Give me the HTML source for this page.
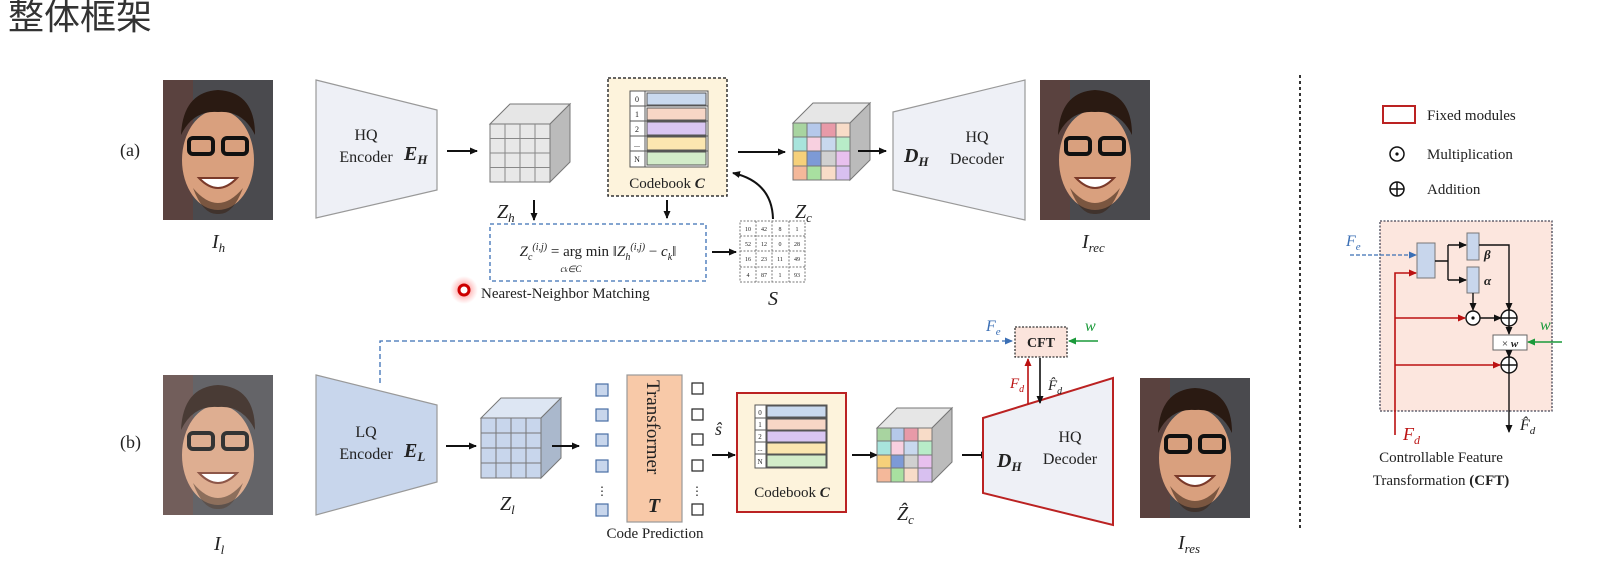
<!DOCTYPE html>
<html><head><meta charset="utf-8"><style>
html,body{margin:0;padding:0;background:#fff;}
svg{display:block;}
text{font-family:"Liberation Serif",serif;fill:#222;}
.it{font-style:italic;}
.b{font-weight:bold;}
</style></head><body>
<svg width="1600" height="568" viewBox="0 0 1600 568" xmlns="http://www.w3.org/2000/svg">
<defs>
<marker id="ar" markerWidth="8" markerHeight="8" refX="7" refY="4" orient="auto" markerUnits="userSpaceOnUse"><path d="M0,0.5 L8,4 L0,7.5Z" fill="#111"/></marker>
<marker id="arr" markerWidth="8" markerHeight="8" refX="7" refY="4" orient="auto" markerUnits="userSpaceOnUse"><path d="M0,0.5 L8,4 L0,7.5Z" fill="#b11"/></marker>
<marker id="arb" markerWidth="8" markerHeight="8" refX="7" refY="4" orient="auto" markerUnits="userSpaceOnUse"><path d="M0,0.5 L8,4 L0,7.5Z" fill="#3b6fb5"/></marker>
<marker id="arg" markerWidth="8" markerHeight="8" refX="7" refY="4" orient="auto" markerUnits="userSpaceOnUse"><path d="M0,0.5 L8,4 L0,7.5Z" fill="#1a9a3a"/></marker>
<radialGradient id="glow"><stop offset="0" stop-color="#f44" stop-opacity="0.8"/><stop offset="1" stop-color="#f88" stop-opacity="0"/></radialGradient>
<g id="face">
<rect x="0" y="0" width="110" height="140" fill="#4a4a4e"/>
<rect x="0" y="0" width="30" height="140" fill="#6a3a30" opacity="0.5"/>
<ellipse cx="55" cy="80" rx="36" ry="50" fill="#d9a07e"/>
<path d="M18,55 Q20,12 55,10 Q92,12 92,55 Q80,30 55,32 Q30,30 18,55Z" fill="#2a1a12"/>
<rect x="26" y="58" width="24" height="16" rx="4" fill="none" stroke="#111" stroke-width="4"/>
<rect x="60" y="58" width="24" height="16" rx="4" fill="none" stroke="#111" stroke-width="4"/>
<path d="M36,98 Q55,118 74,98 Z" fill="#fff" stroke="#7a3a2a" stroke-width="2"/>
<path d="M30,108 Q55,138 80,108 Q70,135 55,134 Q40,135 30,108Z" fill="#3a2418" opacity="0.6"/>
</g>
</defs>

<text x="8" y="29" style="font-family:'Liberation Sans','Noto Sans CJK SC',sans-serif;font-size:36px;fill:#333">整体框架</text>

<!-- (a) -->
<text x="120" y="156" font-size="18">(a)</text>
<use href="#face" x="163" y="80"/>
<text x="212" y="248" font-size="20" class="it">I<tspan font-size="13" dy="4">h</tspan></text>

<path d="M316,80 L437,110 L437,190 L316,218Z" fill="#eef0f6" stroke="#999" stroke-width="1.2"/>
<text x="366" y="140" font-size="16" text-anchor="middle">HQ</text>
<text x="366" y="162" font-size="16" text-anchor="middle">Encoder</text>
<text x="404" y="160" font-size="20" class="it b">E<tspan font-size="13" dy="4">H</tspan></text>
<line x1="447" y1="151" x2="477" y2="151" stroke="#111" stroke-width="2" marker-end="url(#ar)"/>

<g stroke="#777" stroke-width="1">
<path d="M490,124 L510,104 L570,104 L550,124Z" fill="#e6e6e6"/>
<path d="M550,124 L570,104 L570,162 L550,182Z" fill="#bbb"/>
<rect x="490" y="124" width="60" height="58" fill="#e8e8e8"/>
<path d="M505,124V182M520,124V182M535,124V182M490,138.5H550M490,153H550M490,167.5H550" fill="none" stroke="#888"/>
</g>
<text x="497" y="218" font-size="20" class="it">Z<tspan font-size="13" dy="4">h</tspan></text>
<line x1="534" y1="200" x2="534" y2="220" stroke="#111" stroke-width="2" marker-end="url(#ar)"/>

<rect x="608" y="78" width="119" height="118" fill="#fdf3dc" stroke="#333" stroke-width="1.5" stroke-dasharray="3,2"/>
<g stroke="#555" stroke-width="1">
<rect x="630" y="91" width="78" height="76" fill="#fff"/>
<rect x="647" y="93" width="59" height="12" fill="#c9d9ee"/>
<rect x="647" y="108" width="59" height="12" fill="#f7d6c6"/>
<rect x="647" y="122" width="59" height="13" fill="#d9c6f2"/>
<rect x="647" y="137" width="59" height="13" fill="#fbe6b0"/>
<rect x="647" y="152" width="59" height="13" fill="#d3ecc9"/>
<path d="M645,91V167M630,106H708M630,121H708M630,136H708M630,151H708"/>
</g>
<g font-size="8" text-anchor="middle"><text x="637" y="102">0</text><text x="637" y="117">1</text><text x="637" y="132">2</text><text x="637" y="147">...</text><text x="637" y="162">N</text></g>
<text x="667" y="188" font-size="15" text-anchor="middle">Codebook <tspan class="it b">C</tspan></text>
<line x1="667" y1="200" x2="667" y2="218" stroke="#111" stroke-width="2" marker-end="url(#ar)"/>

<rect x="490" y="224" width="216" height="57" fill="#fff" stroke="#3b6fb5" stroke-width="1.3" stroke-dasharray="4,3"/>
<text x="598" y="256" font-size="15" text-anchor="middle"><tspan class="it">Z<tspan font-size="10" dy="4">c</tspan><tspan font-size="10" dy="-10">(i,j)</tspan></tspan><tspan dy="6"> = arg min ‖</tspan><tspan class="it">Z<tspan font-size="10" dy="4">h</tspan><tspan font-size="10" dy="-10">(i,j)</tspan></tspan><tspan dy="6"> − </tspan><tspan class="it">c<tspan font-size="10" dy="4">k</tspan></tspan><tspan dy="-4">‖</tspan></text>
<text x="571" y="272" font-size="9" class="it" text-anchor="middle">c<tspan font-size="7">k</tspan>∈C</text>
<line x1="712" y1="252" x2="736" y2="252" stroke="#111" stroke-width="2" marker-end="url(#ar)"/>

<g stroke="#777" stroke-width="1" stroke-dasharray="2,1.5" fill="none">
<rect x="740" y="221" width="65" height="61"/>
<path d="M756,221V282M772,221V282M789,221V282M740,236H805M740,251H805M740,267H805"/>
</g>
<g font-size="6" text-anchor="middle" fill="#555">
<text x="748" y="231">10</text><text x="764" y="231">42</text><text x="780" y="231">8</text><text x="797" y="231">1</text>
<text x="748" y="246">52</text><text x="764" y="246">12</text><text x="780" y="246">0</text><text x="797" y="246">28</text>
<text x="748" y="261">16</text><text x="764" y="261">23</text><text x="780" y="261">11</text><text x="797" y="261">49</text>
<text x="748" y="277">4</text><text x="764" y="277">87</text><text x="780" y="277">1</text><text x="797" y="277">93</text>
</g>
<text x="768" y="305" font-size="20" class="it">S</text>
<path d="M773,219 Q772,182 733,173" fill="none" stroke="#111" stroke-width="2" marker-end="url(#ar)"/>
<line x1="738" y1="152" x2="785" y2="152" stroke="#111" stroke-width="2" marker-end="url(#ar)"/>

<circle cx="464" cy="290" r="14" fill="url(#glow)"/>
<circle cx="464" cy="290" r="5" fill="#fff" stroke="#c00" stroke-width="3"/>
<text x="481" y="298" font-size="15">Nearest-Neighbor Matching</text>

<g stroke="#777" stroke-width="1">
<path d="M793,123 L813,103 L870,103 L850,123Z" fill="#e6e6e6"/>
<path d="M850,123 L870,103 L870,160 L850,180Z" fill="#bbb"/>
<rect x="793" y="123" width="57" height="57" fill="#eee"/>
<rect x="793" y="123" width="14" height="14" fill="#a8d4a0"/><rect x="807" y="123" width="14" height="14" fill="#b5c8ea"/><rect x="821" y="123" width="15" height="14" fill="#e89aa8"/><rect x="836" y="123" width="14" height="14" fill="#f8dcc8"/>
<rect x="793" y="137" width="14" height="14" fill="#a8e4dc"/><rect x="807" y="137" width="14" height="14" fill="#f8d0e0"/><rect x="821" y="137" width="15" height="14" fill="#c8d8ee"/><rect x="836" y="137" width="14" height="14" fill="#b8ecc8"/>
<rect x="793" y="151" width="14" height="15" fill="#f6d07a"/><rect x="807" y="151" width="14" height="15" fill="#7d9ad6"/><rect x="821" y="151" width="15" height="15" fill="#d0d0d0"/><rect x="836" y="151" width="14" height="15" fill="#e8c0ee"/>
<rect x="793" y="166" width="14" height="14" fill="#f4b89a"/><rect x="807" y="166" width="14" height="14" fill="#a8e0a0"/><rect x="821" y="166" width="15" height="14" fill="#f8dcc8"/><rect x="836" y="166" width="14" height="14" fill="#d8c0f0"/>
</g>
<text x="795" y="218" font-size="20" class="it">Z<tspan font-size="13" dy="4">c</tspan></text>
<line x1="858" y1="151" x2="886" y2="151" stroke="#111" stroke-width="2" marker-end="url(#ar)"/>

<path d="M893,112 L1025,80 L1025,220 L893,190Z" fill="#eef0f6" stroke="#999" stroke-width="1.2"/>
<text x="904" y="162" font-size="20" class="it b">D<tspan font-size="13" dy="4">H</tspan></text>
<text x="977" y="142" font-size="16" text-anchor="middle">HQ</text>
<text x="977" y="164" font-size="16" text-anchor="middle">Decoder</text>
<use href="#face" x="1040" y="80"/>
<text x="1082" y="248" font-size="20" class="it">I<tspan font-size="13" dy="4">rec</tspan></text>

<!-- (b) -->
<text x="120" y="448" font-size="18">(b)</text>
<g opacity="0.85"><use href="#face" x="163" y="375"/></g>
<text x="214" y="550" font-size="20" class="it">I<tspan font-size="13" dy="4">l</tspan></text>
<path d="M316,375 L437,405 L437,482 L316,515Z" fill="#c8d6ec" stroke="#999" stroke-width="1.2"/>
<text x="366" y="437" font-size="16" text-anchor="middle">LQ</text>
<text x="366" y="459" font-size="16" text-anchor="middle">Encoder</text>
<text x="404" y="457" font-size="20" class="it b">E<tspan font-size="13" dy="4">L</tspan></text>
<path d="M380,383 V341 H1012" fill="none" stroke="#3b6fb5" stroke-width="1.3" stroke-dasharray="5,3" marker-end="url(#arb)"/>
<text x="986" y="331" font-size="16" class="it" style="fill:#3b6fb5">F<tspan font-size="11" dy="4">e</tspan></text>
<line x1="446" y1="446" x2="476" y2="446" stroke="#111" stroke-width="2" marker-end="url(#ar)"/>

<g stroke="#777" stroke-width="1">
<path d="M481,418 L501,398 L561,398 L541,418Z" fill="#dde6f3"/>
<path d="M541,418 L561,398 L561,458 L541,478Z" fill="#aab8cc"/>
<rect x="481" y="418" width="60" height="60" fill="#c8d6ec"/>
<path d="M496,418V478M511,418V478M526,418V478M481,433H541M481,448H541M481,463H541" fill="none"/>
</g>
<text x="500" y="510" font-size="20" class="it">Z<tspan font-size="13" dy="4">l</tspan></text>
<line x1="552" y1="446" x2="579" y2="446" stroke="#111" stroke-width="2" marker-end="url(#ar)"/>

<g fill="#c8d6ec" stroke="#4a6fa5" stroke-width="1.2">
<rect x="596" y="384" width="12" height="12"/><rect x="596" y="409" width="12" height="12"/><rect x="596" y="434" width="12" height="12"/><rect x="596" y="460" width="12" height="12"/><rect x="596" y="504" width="12" height="12"/>
</g>
<text x="602" y="495" font-size="12" text-anchor="middle">⋮</text>
<rect x="627" y="375" width="55" height="147" fill="#f8c9a8" stroke="#999" stroke-width="1.2"/>
<text transform="translate(647,380) rotate(90)" font-size="19">Transformer</text>
<text x="654" y="512" font-size="20" class="it b" text-anchor="middle">T</text>
<g fill="#fff" stroke="#222" stroke-width="1.2">
<rect x="692" y="383" width="11" height="11"/><rect x="692" y="409" width="11" height="11"/><rect x="692" y="434" width="11" height="11"/><rect x="692" y="460" width="11" height="11"/><rect x="692" y="504" width="11" height="11"/>
</g>
<text x="697" y="495" font-size="12" text-anchor="middle">⋮</text>
<text x="655" y="538" font-size="15" text-anchor="middle">Code Prediction</text>
<text x="715" y="435" font-size="18" class="it">ŝ</text>
<line x1="712" y1="455" x2="735" y2="455" stroke="#111" stroke-width="2" marker-end="url(#ar)"/>

<rect x="737" y="393" width="109" height="119" fill="#fdf3dc" stroke="#b22" stroke-width="2"/>
<g stroke="#555" stroke-width="1">
<rect x="755" y="405" width="72" height="63" fill="#fff"/>
<rect x="767" y="406" width="59" height="11" fill="#c9d9ee"/>
<rect x="767" y="419" width="59" height="11" fill="#f7d6c6"/>
<rect x="767" y="431" width="59" height="11" fill="#d9c6f2"/>
<rect x="767" y="443" width="59" height="11" fill="#fbe6b0"/>
<rect x="767" y="455" width="59" height="12" fill="#d3ecc9"/>
<path d="M766,405V468M755,418H827M755,430H827M755,442H827M755,454H827"/>
</g>
<g font-size="7" text-anchor="middle"><text x="760" y="415">0</text><text x="760" y="427">1</text><text x="760" y="439">2</text><text x="760" y="451">...</text><text x="760" y="464">N</text></g>
<text x="792" y="497" font-size="15" text-anchor="middle">Codebook <tspan class="it b">C</tspan></text>
<line x1="852" y1="455" x2="877" y2="455" stroke="#111" stroke-width="2" marker-end="url(#ar)"/>

<g stroke="#777" stroke-width="1">
<path d="M877,428 L897,408 L952,408 L932,428Z" fill="#e6e6e6"/>
<path d="M932,428 L952,408 L952,462 L932,482Z" fill="#bbb"/>
<rect x="877" y="428" width="55" height="54" fill="#eee"/>
<rect x="877" y="428" width="14" height="13" fill="#a8d4a0"/><rect x="891" y="428" width="13" height="13" fill="#b5c8ea"/><rect x="904" y="428" width="14" height="13" fill="#e89aa8"/><rect x="918" y="428" width="14" height="13" fill="#f8dcc8"/>
<rect x="877" y="441" width="14" height="14" fill="#a8e4dc"/><rect x="891" y="441" width="13" height="14" fill="#f8d0e0"/><rect x="904" y="441" width="14" height="14" fill="#c8d8ee"/><rect x="918" y="441" width="14" height="14" fill="#b8ecc8"/>
<rect x="877" y="455" width="14" height="13" fill="#f6d07a"/><rect x="891" y="455" width="13" height="13" fill="#7d9ad6"/><rect x="904" y="455" width="14" height="13" fill="#d0d0d0"/><rect x="918" y="455" width="14" height="13" fill="#e8c0ee"/>
<rect x="877" y="468" width="14" height="14" fill="#f4b89a"/><rect x="891" y="468" width="13" height="14" fill="#a8e0a0"/><rect x="904" y="468" width="14" height="14" fill="#f8dcc8"/><rect x="918" y="468" width="14" height="14" fill="#d8c0f0"/>
</g>
<text x="897" y="520" font-size="20" class="it">Ẑ<tspan font-size="13" dy="4">c</tspan></text>
<line x1="962" y1="455" x2="988" y2="455" stroke="#111" stroke-width="2" marker-end="url(#ar)"/>

<path d="M983,418 L1113,378 L1113,525 L983,493Z" fill="#eef0f6" stroke="#b22" stroke-width="2"/>
<text x="997" y="467" font-size="20" class="it b">D<tspan font-size="13" dy="4">H</tspan></text>
<text x="1070" y="442" font-size="16" text-anchor="middle">HQ</text>
<text x="1070" y="464" font-size="16" text-anchor="middle">Decoder</text>

<rect x="1015" y="327" width="52" height="30" fill="#fbe4dc" stroke="#333" stroke-width="1.3" stroke-dasharray="2,1.5"/>
<text x="1041" y="347" font-size="14" class="b" text-anchor="middle">CFT</text>
<line x1="1028" y1="404" x2="1028" y2="359" stroke="#b11" stroke-width="1.6" marker-end="url(#arr)"/>
<text x="1010" y="388" font-size="15" class="it" style="fill:#b11">F<tspan font-size="10" dy="4">d</tspan></text>
<line x1="1040" y1="358" x2="1040" y2="403" stroke="#111" stroke-width="1.6" marker-end="url(#ar)"/>
<text x="1048" y="390" font-size="15" class="it">F̂<tspan font-size="10" dy="4">d</tspan></text>
<line x1="1098" y1="341" x2="1069" y2="341" stroke="#1a9a3a" stroke-width="1.6" marker-end="url(#arg)"/>
<text x="1085" y="331" font-size="16" class="it" style="fill:#1a9a3a">w</text>

<use href="#face" x="1140" y="378"/>
<text x="1178" y="549" font-size="20" class="it">I<tspan font-size="13" dy="4">res</tspan></text>

<line x1="1300" y1="75" x2="1300" y2="530" stroke="#333" stroke-width="2" stroke-dasharray="3,3"/>

<rect x="1383" y="106" width="32" height="17" fill="#fff" stroke="#b22" stroke-width="2"/>
<text x="1427" y="120" font-size="15">Fixed modules</text>
<circle cx="1397" cy="154" r="7" fill="#fff" stroke="#111" stroke-width="1.5"/><circle cx="1397" cy="154" r="1.6" fill="#111"/>
<text x="1427" y="159" font-size="15">Multiplication</text>
<circle cx="1397" cy="189" r="7" fill="#fff" stroke="#111" stroke-width="1.5"/><path d="M1390,189H1404M1397,182V196" stroke="#111" stroke-width="1.5"/>
<text x="1427" y="194" font-size="15">Addition</text>

<rect x="1380" y="221" width="172" height="190" fill="#fce6de" stroke="#445" stroke-width="1.3" stroke-dasharray="2,1.5"/>
<text x="1346" y="246" font-size="16" class="it" style="fill:#3b6fb5">F<tspan font-size="11" dy="4">e</tspan></text>
<line x1="1350" y1="255" x2="1416" y2="255" stroke="#3b6fb5" stroke-width="1.3" stroke-dasharray="4,2" marker-end="url(#arb)"/>
<rect x="1417" y="243" width="18" height="35" fill="#c8d6ec" stroke="#777"/>
<rect x="1467" y="233" width="12" height="27" fill="#c8d6ec" stroke="#777"/>
<rect x="1467" y="267" width="12" height="26" fill="#c8d6ec" stroke="#777"/>
<text x="1484" y="259" font-size="13" class="it b">β</text>
<text x="1484" y="285" font-size="13" class="it b">α</text>
<path d="M1435,261H1448M1448,245V280" stroke="#111" stroke-width="1.4" fill="none"/>
<line x1="1448" y1="245" x2="1466" y2="245" stroke="#111" stroke-width="1.4" marker-end="url(#ar)"/>
<line x1="1448" y1="280" x2="1466" y2="280" stroke="#111" stroke-width="1.4" marker-end="url(#ar)"/>
<path d="M1479,245H1509V310" stroke="#111" stroke-width="1.4" fill="none" marker-end="url(#ar)"/>
<line x1="1473" y1="293" x2="1473" y2="310" stroke="#111" stroke-width="1.4" marker-end="url(#ar)"/>
<circle cx="1473" cy="318" r="7" fill="#fff" stroke="#111" stroke-width="1.4"/><circle cx="1473" cy="318" r="1.6" fill="#111"/>
<line x1="1480" y1="318" x2="1501" y2="318" stroke="#111" stroke-width="1.4" marker-end="url(#ar)"/>
<circle cx="1509" cy="318" r="8" fill="#fff" stroke="#111" stroke-width="1.4"/><path d="M1501,318H1517M1509,310V326" stroke="#111" stroke-width="1.4"/>
<line x1="1509" y1="326" x2="1509" y2="334" stroke="#111" stroke-width="1.4" marker-end="url(#ar)"/>
<rect x="1493" y="335" width="34" height="15" fill="#fff" stroke="#666"/>
<text x="1510" y="347" font-size="11" text-anchor="middle">× <tspan class="it b">w</tspan></text>
<line x1="1509" y1="350" x2="1509" y2="357" stroke="#111" stroke-width="1.4" marker-end="url(#ar)"/>
<circle cx="1509" cy="365" r="8" fill="#fff" stroke="#111" stroke-width="1.4"/><path d="M1501,365H1517M1509,357V373" stroke="#111" stroke-width="1.4"/>
<line x1="1509" y1="373" x2="1509" y2="432" stroke="#111" stroke-width="1.4" marker-end="url(#ar)"/>
<text x="1520" y="430" font-size="16" class="it">F̂<tspan font-size="11" dy="4">d</tspan></text>
<line x1="1562" y1="342" x2="1528" y2="342" stroke="#1a9a3a" stroke-width="1.4" marker-end="url(#arg)"/>
<text x="1540" y="330" font-size="16" class="it" style="fill:#1a9a3a">w</text>
<path d="M1395,435V273H1416" stroke="#b11" stroke-width="1.6" fill="none" marker-end="url(#arr)"/>
<line x1="1395" y1="318" x2="1465" y2="318" stroke="#b11" stroke-width="1.6" marker-end="url(#arr)"/>
<line x1="1395" y1="365" x2="1500" y2="365" stroke="#b11" stroke-width="1.6" marker-end="url(#arr)"/>
<text x="1403" y="440" font-size="18" class="it" style="fill:#b11">F<tspan font-size="12" dy="4">d</tspan></text>

<text x="1441" y="462" font-size="15" text-anchor="middle">Controllable Feature</text>
<text x="1441" y="485" font-size="15" text-anchor="middle">Transformation <tspan class="b">(CFT)</tspan></text>
</svg>
</body></html>
